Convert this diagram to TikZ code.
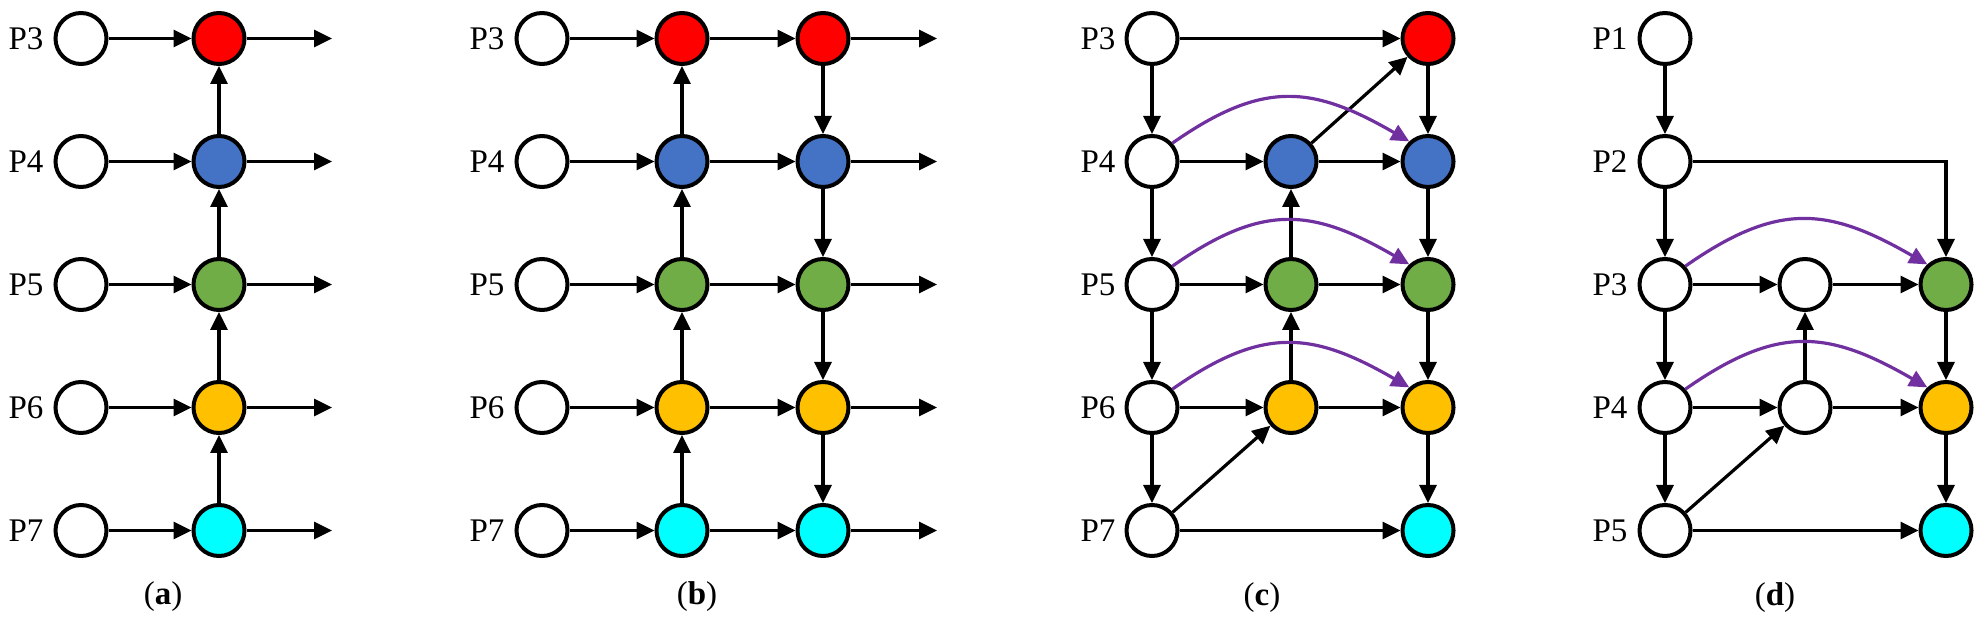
\documentclass[tikz,border=0pt]{standalone}
\usepackage{fontspec}
\setmainfont{Liberation Serif}
\usetikzlibrary{arrows.meta}
\definecolor{cred}{HTML}{FF0000}
\definecolor{cblue}{HTML}{4472C4}
\definecolor{cgreen}{HTML}{70AD47}
\definecolor{cyellow}{HTML}{FFC000}
\definecolor{ccyan}{HTML}{00FFFF}
\definecolor{cpurple}{HTML}{7030A0}
\begin{document}
\begin{tikzpicture}[x=1pt,y=1pt,
  nd/.style={circle,draw=black,line width=4pt,minimum size=51pt,inner sep=0pt,fill=white},
  arr/.style={draw=black,line width=3.2pt,-{Triangle[length=18pt,width=17pt]}},
  parr/.style={draw=cpurple,line width=3.2pt,-{Triangle[length=18pt,width=17pt]},out=35,in=150,looseness=1.2},
  lab/.style={font=\fontsize{33}{36}\selectfont,inner sep=0pt},
  capt/.style={font=\fontsize{33}{36}\selectfont,inner sep=0pt}]
\useasboundingbox (0,0) rectangle (1983,621);

% ---------- (a) ----------
\foreach \r/\y/\c in {3/582.5/cred,4/459.5/cblue,5/336.5/cgreen,6/213.5/cyellow,7/90.5/ccyan}{
  \node[lab] (a-p\r) at (26,\y) {P\r};
  \node[nd] (a-l\r) at (81,\y) {};
  \node[nd,fill=\c] (a-c\r) at (219,\y) {};
  \coordinate (a-e\r) at (332,\y);
  \draw[arr] (a-l\r) -- (a-c\r);
  \draw[arr] (a-c\r) -- (a-e\r);
}
\draw[arr] (a-c7) -- (a-c6);
\draw[arr] (a-c6) -- (a-c5);
\draw[arr] (a-c5) -- (a-c4);
\draw[arr] (a-c4) -- (a-c3);
\node[capt] (a-cap) at (163,24) {(\textbf{a})};

% ---------- (b) ----------
\foreach \r/\y/\c in {3/582.5/cred,4/459.5/cblue,5/336.5/cgreen,6/213.5/cyellow,7/90.5/ccyan}{
  \node[lab] (b-p\r) at (487,\y) {P\r};
  \node[nd] (b-l\r) at (542,\y) {};
  \node[nd,fill=\c] (b-c\r) at (682,\y) {};
  \node[nd,fill=\c] (b-d\r) at (823,\y) {};
  \coordinate (b-e\r) at (937,\y);
  \draw[arr] (b-l\r) -- (b-c\r);
  \draw[arr] (b-c\r) -- (b-d\r);
  \draw[arr] (b-d\r) -- (b-e\r);
}
\draw[arr] (b-c7) -- (b-c6);
\draw[arr] (b-c6) -- (b-c5);
\draw[arr] (b-c5) -- (b-c4);
\draw[arr] (b-c4) -- (b-c3);
\draw[arr] (b-d3) -- (b-d4);
\draw[arr] (b-d4) -- (b-d5);
\draw[arr] (b-d5) -- (b-d6);
\draw[arr] (b-d6) -- (b-d7);
\node[capt] (b-cap) at (697,24) {(\textbf{b})};

% ---------- (c) ----------
\foreach \r/\y/\c in {3/582.5/cred,4/459.5/cblue,5/336.5/cgreen,6/213.5/cyellow,7/90.5/ccyan}{
  \node[lab] (c-p\r) at (1098,\y) {P\r};
  \node[nd] (c-l\r) at (1152,\y) {};
  \node[nd,fill=\c] (c-r\r) at (1428,\y) {};
}
\node[nd,fill=cblue] (c-m4) at (1291,459.5) {};
\node[nd,fill=cgreen] (c-m5) at (1291,336.5) {};
\node[nd,fill=cyellow] (c-m6) at (1291,213.5) {};
\draw[arr] (c-l3) -- (c-l4);
\draw[arr] (c-l4) -- (c-l5);
\draw[arr] (c-l5) -- (c-l6);
\draw[arr] (c-l6) -- (c-l7);
\draw[arr] (c-r3) -- (c-r4);
\draw[arr] (c-r4) -- (c-r5);
\draw[arr] (c-r5) -- (c-r6);
\draw[arr] (c-r6) -- (c-r7);
\draw[arr] (c-l3) -- (c-r3);
\draw[arr] (c-l4) -- (c-m4);
\draw[arr] (c-m4) -- (c-r4);
\draw[arr] (c-l5) -- (c-m5);
\draw[arr] (c-m5) -- (c-r5);
\draw[arr] (c-l6) -- (c-m6);
\draw[arr] (c-m6) -- (c-r6);
\draw[arr] (c-l7) -- (c-r7);
\draw[arr] (c-m5) -- (c-m4);
\draw[arr] (c-m6) -- (c-m5);
\draw[arr] (c-m4) -- (c-r3);
\draw[arr] (c-l7) -- (c-m6);
\draw[parr] (c-l4.42) to (c-r4.133);
\draw[parr] (c-l5.42) to (c-r5.133);
\draw[parr] (c-l6.42) to (c-r6.133);
\node[capt] (c-cap) at (1262,23) {(\textbf{c})};

% ---------- (d) ----------
\foreach \r/\y in {1/582.5,2/459.5,3/336.5,4/213.5,5/90.5}{
  \node[lab] (d-p\r) at (1610,\y) {P\r};
  \node[nd] (d-l\r) at (1665,\y) {};
}
\node[nd] (d-m3) at (1805,336.5) {};
\node[nd] (d-m4) at (1805,213.5) {};
\node[nd,fill=cgreen] (d-r3) at (1946,336.5) {};
\node[nd,fill=cyellow] (d-r4) at (1946,213.5) {};
\node[nd,fill=ccyan] (d-r5) at (1946,90.5) {};
\draw[arr] (d-l1) -- (d-l2);
\draw[arr] (d-l2) -- (d-l3);
\draw[arr] (d-l3) -- (d-l4);
\draw[arr] (d-l4) -- (d-l5);
\draw[arr] (d-l2) -| (d-r3);
\draw[arr] (d-l3) -- (d-m3);
\draw[arr] (d-m3) -- (d-r3);
\draw[arr] (d-l4) -- (d-m4);
\draw[arr] (d-m4) -- (d-r4);
\draw[arr] (d-m4) -- (d-m3);
\draw[arr] (d-l5) -- (d-m4);
\draw[arr] (d-l5) -- (d-r5);
\draw[arr] (d-r3) -- (d-r4);
\draw[arr] (d-r4) -- (d-r5);
\draw[parr] (d-l3.42) to (d-r3.133);
\draw[parr] (d-l4.42) to (d-r4.133);
\node[capt] (d-cap) at (1775,23) {(\textbf{d})};
\end{tikzpicture}
\end{document}
